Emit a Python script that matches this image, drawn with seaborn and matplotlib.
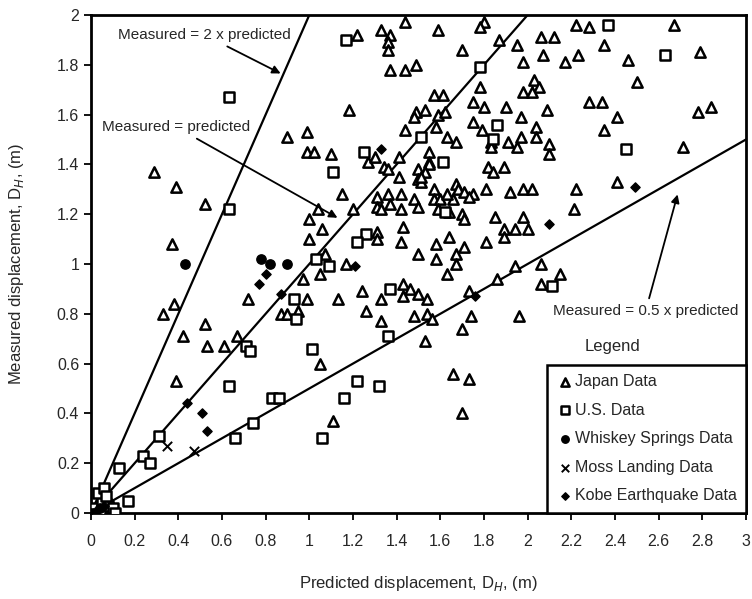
import seaborn as sns
import matplotlib.pyplot as plt
import pandas as pd

# Japan data (triangles)
japan_x = [0.29, 0.39, 0.52, 0.37, 0.33, 0.38, 0.42, 0.52, 0.53, 0.61, 0.67, 0.72, 0.39, 0.87, 0.90,
           0.95, 0.97, 0.99, 1.05, 0.90, 0.99, 0.99, 1.02, 1.04, 1.00, 1.00, 1.05, 1.11, 1.13, 1.24,
           1.26, 1.33, 1.33, 1.43, 1.46, 1.43, 1.50, 1.54, 1.48, 1.54, 1.56, 1.53, 1.50, 1.58, 1.67,
           1.67, 1.63, 1.73, 1.74, 1.70, 1.66, 1.73, 1.70, 1.86, 1.94, 1.96, 1.17, 1.07, 2.06, 2.15,
           2.06,
           2.22, 2.28, 2.67, 2.06, 2.12, 2.35, 2.79, 2.07, 2.17, 2.23, 2.46, 2.50, 2.03, 2.05, 1.98,
           2.02, 2.28, 2.34, 2.41, 2.35, 2.78, 2.84, 2.71, 2.09, 2.04, 2.04, 2.10, 2.10, 1.97, 1.97,
           2.41, 1.98, 2.02, 2.22, 2.21, 2.00, 1.98,
           1.44, 1.59, 1.80, 1.78, 1.33, 1.22, 1.37, 1.36, 1.36, 1.70, 1.87, 1.95, 1.98, 1.37, 1.44,
           1.49, 1.78, 1.18, 1.57, 1.61, 1.75, 1.80, 1.90, 1.75, 1.79, 1.49, 1.53, 1.48, 1.59, 1.62,
           1.44, 1.58, 1.63, 1.67, 1.10, 1.27, 1.30, 1.41, 1.34, 1.36, 1.41, 1.55, 1.55, 1.50, 1.50,
           1.51, 1.83, 1.83, 1.91, 1.95, 1.82, 1.84, 1.89, 1.15, 1.06, 1.20, 1.31, 1.36, 1.42, 1.31,
           1.33, 1.37, 1.42, 1.48, 1.50, 1.57, 1.57, 1.60, 1.59, 1.67, 1.68, 1.71, 1.75, 1.66, 1.81,
           1.92, 1.70, 1.71, 1.85, 1.89, 1.89, 1.94, 1.43, 1.42, 1.31, 1.31, 1.58, 1.64, 1.71, 1.81,
           1.55, 1.53, 1.51, 1.63, 1.64, 1.73]
japan_y = [1.37, 1.31, 1.24, 1.08, 0.80, 0.84, 0.71, 0.76, 0.67, 0.67, 0.71, 0.86, 0.53, 0.80, 0.80,
           0.81, 0.94, 0.86, 0.96, 1.51, 1.53, 1.45, 1.45, 1.22, 1.18, 1.10, 0.60, 0.37, 0.86, 0.89,
           0.81, 0.86, 0.77, 0.92, 0.90, 0.87, 0.88, 0.86, 0.79, 0.80, 0.78, 0.69, 1.04, 1.02, 1.04,
           1.00, 0.96, 0.89, 0.79, 0.74, 0.56, 0.54, 0.40, 0.94, 0.99, 0.79, 1.00, 1.04, 1.00, 0.96,
           0.92,
           1.96, 1.95, 1.96, 1.91, 1.91, 1.88, 1.85, 1.84, 1.81, 1.84, 1.82, 1.73, 1.74, 1.71, 1.69,
           1.69, 1.65, 1.65, 1.59, 1.54, 1.61, 1.63, 1.47, 1.62, 1.55, 1.51, 1.48, 1.44, 1.59, 1.51,
           1.33, 1.30, 1.30, 1.30, 1.22, 1.14, 1.19,
           1.97, 1.94, 1.97, 1.95, 1.94, 1.92, 1.92, 1.89, 1.86, 1.86, 1.90, 1.88, 1.81, 1.78, 1.78,
           1.80, 1.71, 1.62, 1.68, 1.68, 1.65, 1.63, 1.63, 1.57, 1.54, 1.61, 1.62, 1.59, 1.60, 1.61,
           1.54, 1.55, 1.51, 1.49, 1.44, 1.41, 1.43, 1.43, 1.39, 1.38, 1.35, 1.45, 1.41, 1.38, 1.34,
           1.33, 1.49, 1.47, 1.49, 1.47, 1.39, 1.37, 1.39, 1.28, 1.14, 1.22, 1.27, 1.28, 1.28, 1.23,
           1.22, 1.24, 1.22, 1.26, 1.23, 1.30, 1.26, 1.26, 1.22, 1.32, 1.30, 1.29, 1.28, 1.26, 1.30,
           1.29, 1.20, 1.18, 1.19, 1.14, 1.11, 1.14, 1.15, 1.09, 1.13, 1.10, 1.08, 1.11, 1.07, 1.09,
           1.40, 1.37, 1.35, 1.28, 1.21, 1.27]
japan_x += [0.03, 0.05, 0.01, 0.08]
japan_y += [0.04, 0.00, 0.01, 0.06]

# U.S. data (open squares)
us_x = [0.63, 0.63, 1.03, 0.93, 0.94, 0.71, 0.73, 0.63, 0.83, 0.86, 0.74, 0.66, 0.31, 0.24, 0.27,
        0.13, 0.17, 1.01, 1.37, 1.36, 1.22, 1.32, 1.16, 1.06, 1.09, 2.11, 2.37, 2.63, 2.45, 1.17,
        1.78, 1.86, 1.51, 1.25, 1.11, 1.61, 1.62, 1.26, 1.22, 1.84,
        0.02, 0.05, 0.08, 0.03, 0.06, 0.10, 0.04, 0.07, 0.11]
us_y = [1.22, 1.67, 1.02, 0.86, 0.78, 0.67, 0.65, 0.51, 0.46, 0.46, 0.36, 0.30, 0.31, 0.23, 0.20,
        0.18, 0.05, 0.66, 0.90, 0.71, 0.53, 0.51, 0.46, 0.30, 0.99, 0.91, 1.96, 1.84, 1.46, 1.90,
        1.79, 1.56, 1.51, 1.45, 1.37, 1.41, 1.21, 1.12, 1.09, 1.50,
        0.02, 0.05, 0.03, 0.08, 0.10, 0.02, 0.00, 0.07, 0.00]

# Whiskey Springs data (filled circles)
whiskey_x = [0.43, 0.78, 0.82, 0.90, 0.00, 0.02, 0.04]
whiskey_y = [1.00, 1.02, 1.00, 1.00, 0.00, 0.00, 0.02]

# Moss Landing data (crosses)
moss_x = [0.35, 0.47]
moss_y = [0.27, 0.25]

# Kobe earthquake data (filled diamonds)
kobe_x = [0.80, 0.77, 0.87, 0.51, 0.53, 1.21, 1.76, 2.49, 2.10, 1.33, 0.44, 0.01, 0.06]
kobe_y = [0.96, 0.92, 0.88, 0.40, 0.33, 0.99, 0.87, 1.31, 1.16, 1.46, 0.44, 0.00, 0.03]

x_ticks = [0, 0.2, 0.4, 0.6, 0.8, 1, 1.2, 1.4, 1.6, 1.8, 2, 2.2, 2.4, 2.6, 2.8, 3]
y_ticks = [0, 0.2, 0.4, 0.6, 0.8, 1, 1.2, 1.4, 1.6, 1.8, 2]
ratios = [2, 1, 0.5]

sns.set_style('ticks')
plt.rcParams['font.family'] = ['Liberation Sans', 'DejaVu Sans']

fig = plt.figure(figsize=(7.52, 5.99), dpi=100)
ax = fig.add_axes([0.121, 0.1436, 0.871, 0.8314])

# reference lines
for r in ratios:
    xe = min(3, 2 / r)
    sns.lineplot(x=[0, xe], y=[0, r * xe], color='black', lw=1.6, ax=ax)

groups = [
    (japan_x, japan_y, '^', 'white', 'Japan Data', 55, 1.8),
    (us_x, us_y, 's', 'white', 'U.S. Data', 42, 1.8),
    (whiskey_x, whiskey_y, 'o', 'black', 'Whiskey Springs Data', 45, 1.0),
    (moss_x, moss_y, 'x', 'black', 'Moss Landing Data', 45, 1.4),
    (kobe_x, kobe_y, 'D', 'black', 'Kobe Earthquake Data', 22, 1.0),
]
for gx, gy, m, fc, lab, s, lw in groups:
    df = pd.DataFrame({'x': gx, 'y': gy})
    if m == 'x':
        sns.scatterplot(data=df, x='x', y='y', marker=m, s=s, color='black',
                        linewidth=lw, label=lab, ax=ax, zorder=3)
    else:
        sns.scatterplot(data=df, x='x', y='y', marker=m, s=s, facecolor=fc,
                        edgecolor='black', linewidth=lw, label=lab, ax=ax, zorder=3)

ax.set_xlim(0, 3)
ax.set_ylim(0, 2)
ax.set_xticks(x_ticks)
ax.set_xticklabels([f'{t:g}' for t in x_ticks])
ax.set_yticks(y_ticks)
ax.set_yticklabels([f'{t:g}' for t in y_ticks])
ax.tick_params(direction='out', length=5, width=1.3, labelsize=11.5, color='black')
ax.tick_params(axis='x', pad=10)
for sp in ax.spines.values():
    sp.set_visible(True)
    sp.set_linewidth(2)
    sp.set_color('black')

ax.set_xlabel('Predicted displacement, D$_H$, (m)', fontsize=12, labelpad=18)
ax.set_ylabel('Measured displacement, D$_H$, (m)', fontsize=12, labelpad=22)

arrow = dict(arrowstyle='-|>', color='black', lw=1.3, mutation_scale=12)
ax.annotate('Measured = 2 x predicted', xy=(0.88, 1.76), xytext=(0.52, 1.92),
            fontsize=11, ha='center', va='center', arrowprops=arrow)
ax.annotate('Measured = predicted', xy=(1.14, 1.18), xytext=(0.39, 1.55),
            fontsize=11, ha='center', va='center', arrowprops=arrow)
ax.annotate('Measured = 0.5 x predicted', xy=(2.69, 1.29), xytext=(2.54, 0.81),
            fontsize=11, ha='center', va='center', arrowprops=arrow)
ax.text(2.39, 0.67, 'Legend', fontsize=12, ha='center', va='center')

leg = ax.legend(loc='lower right', bbox_to_anchor=(1.0, 0.0), fontsize=11.5,
                frameon=True, fancybox=False, edgecolor='black', framealpha=1,
                handletextpad=0.1, handlelength=1.0, borderpad=0.6, labelspacing=0.85,
                borderaxespad=0, markerscale=0.8)
leg.get_frame().set_linewidth(1.8)

fig.savefig('out.png', dpi=100)
